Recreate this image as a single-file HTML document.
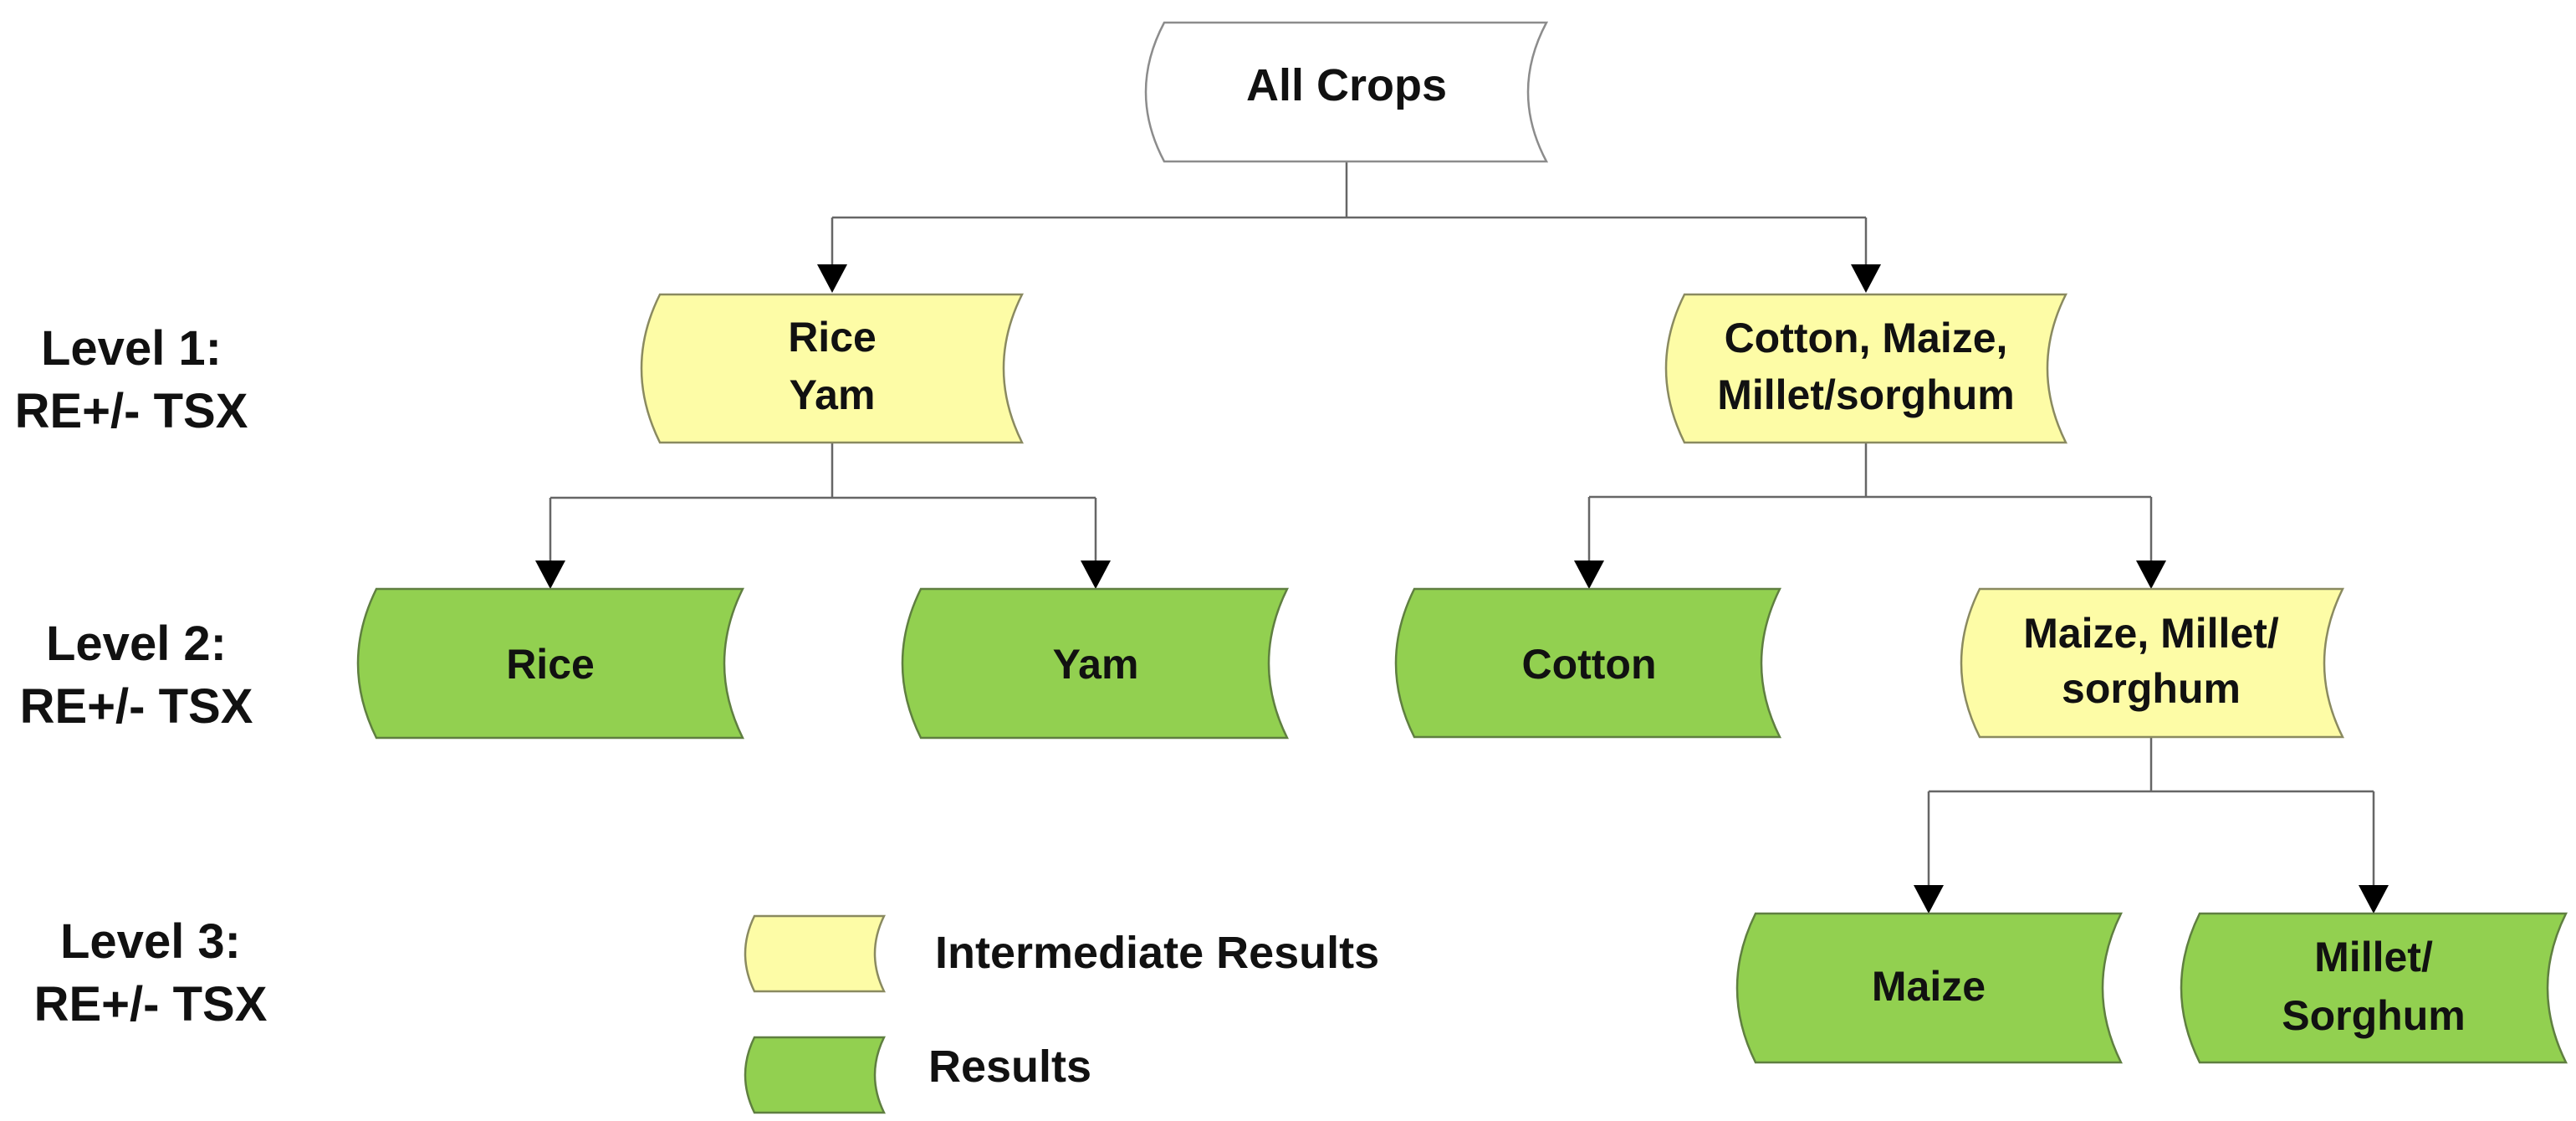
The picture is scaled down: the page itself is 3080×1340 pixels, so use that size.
<!DOCTYPE html>
<html><head><meta charset="utf-8"><style>
html,body{margin:0;padding:0;background:#fff;}
svg{display:block;}
text{font-family:"Liberation Sans",Arial,sans-serif;font-weight:bold;fill:#111;}
</style></head><body>
<svg width="3080" height="1340" viewBox="0 0 3080 1340" xmlns="http://www.w3.org/2000/svg">
<defs>
<marker id="ah" markerWidth="36" markerHeight="34" refX="18" refY="34" orient="0" markerUnits="userSpaceOnUse">
<path d="M0,0 L36,0 L18,34 Z" fill="#000"/>
</marker>
</defs>
<g stroke="#666" stroke-width="2.5" fill="none">
<path d="M1610,193 V260"/>
<path d="M995,260 H2231"/>
<path d="M995,260 V316"/><path d="M2231,260 V316"/>
<path d="M995,529 V595 M658,595 H1310"/>
<path d="M658,595 V670"/><path d="M1310,595 V670"/>
<path d="M2231,529 V594 M1900,594 H2572"/>
<path d="M1900,594 V670"/><path d="M2572,594 V670"/>
<path d="M2572,881 V946 M2306,946 H2838"/>
<path d="M2306,946 V1058"/><path d="M2838,946 V1058"/>
</g>
<g fill="#000">
<path d="M977,316 L1013,316 L995,350 Z"/>
<path d="M2213,316 L2249,316 L2231,350 Z"/>
<path d="M640,670 L676,670 L658,704 Z"/>
<path d="M1292,670 L1328,670 L1310,704 Z"/>
<path d="M1882,670 L1918,670 L1900,704 Z"/>
<path d="M2554,670 L2590,670 L2572,704 Z"/>
<path d="M2288,1058 L2324,1058 L2306,1092 Z"/>
<path d="M2820,1058 L2856,1058 L2838,1092 Z"/>
</g>
<!-- shapes -->
<g stroke-width="2.5">
<path d="M1392,27 L1849,27 Q1805,110 1849,193 L1392,193 Q1348,110 1392,27 Z" fill="#fff" stroke="#8c8c8c"/>
<path d="M789,352 L1222,352 Q1178,440 1222,529 L789,529 Q745,440 789,352 Z" fill="#fdfca6" stroke="#8a8a60"/>
<path d="M2014,352 L2470,352 Q2426,440 2470,529 L2014,529 Q1970,440 2014,352 Z" fill="#fdfca6" stroke="#8a8a60"/>
<path d="M450,704 L888,704 Q844,793 888,882 L450,882 Q406,793 450,704 Z" fill="#92d050" stroke="#5f7f40"/>
<path d="M1101,704 L1539,704 Q1495,793 1539,882 L1101,882 Q1057,793 1101,704 Z" fill="#92d050" stroke="#5f7f40"/>
<path d="M1691,704 L2128,704 Q2084,793 2128,881 L1691,881 Q1647,793 1691,704 Z" fill="#92d050" stroke="#5f7f40"/>
<path d="M2367,704 L2801,704 Q2757,793 2801,881 L2367,881 Q2323,793 2367,704 Z" fill="#fdfca6" stroke="#8a8a60"/>
<path d="M2099,1092 L2536,1092 Q2492,1181 2536,1270 L2099,1270 Q2055,1181 2099,1092 Z" fill="#92d050" stroke="#5f7f40"/>
<path d="M2630,1092 L3068,1092 Q3024,1181 3068,1270 L2630,1270 Q2586,1181 2630,1092 Z" fill="#92d050" stroke="#5f7f40"/>
<path d="M902,1095 L1057,1095 Q1035,1140 1057,1185 L902,1185 Q880,1140 902,1095 Z" fill="#fdfca6" stroke="#8a8a60"/>
<path d="M902,1240 L1057,1240 Q1035,1285 1057,1330 L902,1330 Q880,1285 902,1240 Z" fill="#92d050" stroke="#5f7f40"/>
</g>
<g font-size="50" text-anchor="middle">
<text x="1610" y="120" font-size="54">All Crops</text>
<text x="995" y="420">Rice</text>
<text x="995" y="489">Yam</text>
<text x="2231" y="421">Cotton, Maize,</text>
<text x="2231" y="489">Millet/sorghum</text>
<text x="658" y="811">Rice</text>
<text x="1310" y="811">Yam</text>
<text x="1900" y="811">Cotton</text>
<text x="2572" y="774">Maize, Millet/</text>
<text x="2572" y="840">sorghum</text>
<text x="2306" y="1196">Maize</text>
<text x="2838" y="1161">Millet/</text>
<text x="2838" y="1231">Sorghum</text>
</g>
<g font-size="58" text-anchor="middle">
<text x="157" y="436">Level 1:</text>
<text x="157" y="511">RE+/- TSX</text>
<text x="163" y="789">Level 2:</text>
<text x="163" y="864">RE+/- TSX</text>
<text x="180" y="1145">Level 3:</text>
<text x="180" y="1220">RE+/- TSX</text>
</g>
<g font-size="54">
<text x="1118" y="1157">Intermediate Results</text>
<text x="1110" y="1293">Results</text>
</g>
</svg>
</body></html>
